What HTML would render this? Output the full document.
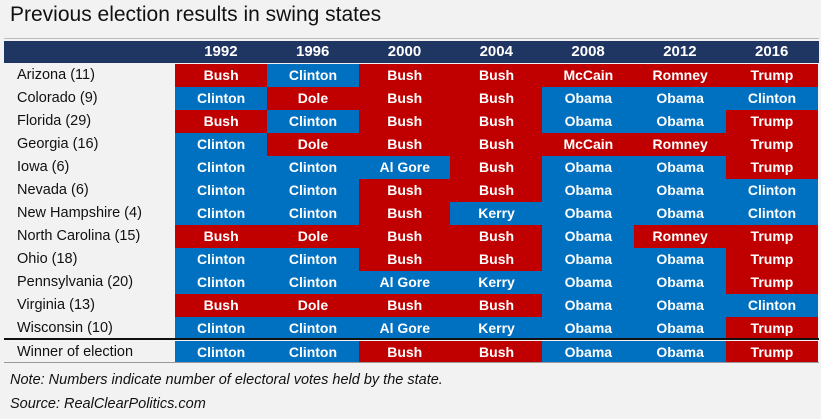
<!DOCTYPE html>
<html><head><meta charset="utf-8"><style>
body{margin:0;width:821px;height:419px;background:#f2f2f2;font-family:"Liberation Sans",sans-serif;position:relative;overflow:hidden}
.a{position:absolute}
.c{position:absolute;height:23px;line-height:23px;text-align:center;color:#fff;font-weight:bold;font-size:14px}
.l{position:absolute;left:17px;height:23px;line-height:23px;font-size:14.5px;color:#111}
</style></head><body>
<div class="a" style="left:10px;top:3px;font-size:21px;color:#111">Previous election results in swing states</div>
<div class="a" style="left:4px;top:38px;width:815px;height:1px;background:#bbb"></div>
<div class="a" style="left:4px;top:41px;width:815px;height:22px;background:#1f3562"></div>
<div id="t"></div>
<div class="a" style="left:4px;top:338px;width:815px;height:2px;background:#111"></div>
<div class="a" style="left:4px;top:362px;width:815px;height:1px;background:#999"></div>
<div class="a" style="left:10px;top:372px;font-size:14.5px;font-style:italic;color:#111">Note: Numbers indicate number of electoral votes held by the state.</div>
<div class="a" style="left:10px;top:396px;font-size:14.5px;font-style:italic;color:#111">Source: RealClearPolitics.com</div>
<script>
const years=["1992","1996","2000","2004","2008","2012","2016"];
const states=["Arizona (11)","Colorado (9)","Florida (29)","Georgia (16)","Iowa (6)","Nevada (6)","New Hampshire (4)","North Carolina (15)","Ohio (18)","Pennsylvania (20)","Virginia (13)","Wisconsin (10)","Winner of election"];
const results=[
["Bush","Clinton","Bush","Bush","McCain","Romney","Trump"],
["Clinton","Dole","Bush","Bush","Obama","Obama","Clinton"],
["Bush","Clinton","Bush","Bush","Obama","Obama","Trump"],
["Clinton","Dole","Bush","Bush","McCain","Romney","Trump"],
["Clinton","Clinton","Al Gore","Bush","Obama","Obama","Trump"],
["Clinton","Clinton","Bush","Bush","Obama","Obama","Clinton"],
["Clinton","Clinton","Bush","Kerry","Obama","Obama","Clinton"],
["Bush","Dole","Bush","Bush","Obama","Romney","Trump"],
["Clinton","Clinton","Bush","Bush","Obama","Obama","Trump"],
["Clinton","Clinton","Al Gore","Kerry","Obama","Obama","Trump"],
["Bush","Dole","Bush","Bush","Obama","Obama","Clinton"],
["Clinton","Clinton","Al Gore","Kerry","Obama","Obama","Trump"],
["Clinton","Clinton","Bush","Bush","Obama","Obama","Trump"]];
const rep=["Bush","Dole","McCain","Romney","Trump"];
const t=document.getElementById('t');
const x0=175,cw=91.8,y0=64,rh=23;
years.forEach((y,j)=>{const d=document.createElement('div');d.className='c';


d.style.left=(x0+j*cw)+'px';d.style.top='41px';d.style.width=cw+'px';d.style.height='22px';d.style.lineHeight='22px';d.style.fontSize='15px';d.textContent=y;t.appendChild(d);});
states.forEach((s,i)=>{const top=y0+i*rh+(i==12?1:0);
const l=document.createElement('div');l.className='l';


l.style.top=top+'px';l.textContent=s;t.appendChild(l);
results[i].forEach((r,j)=>{const d=document.createElement('div');d.className='c';


d.style.left=(x0+j*cw)+'px';d.style.top=top+'px';d.style.width=(cw+0.5)+'px';d.style.height=(i==12?22:23)+'px';
d.style.background=rep.includes(r)?'#c00000':'#0070c0';d.textContent=r;t.appendChild(d);});});
</script>
</body></html>
